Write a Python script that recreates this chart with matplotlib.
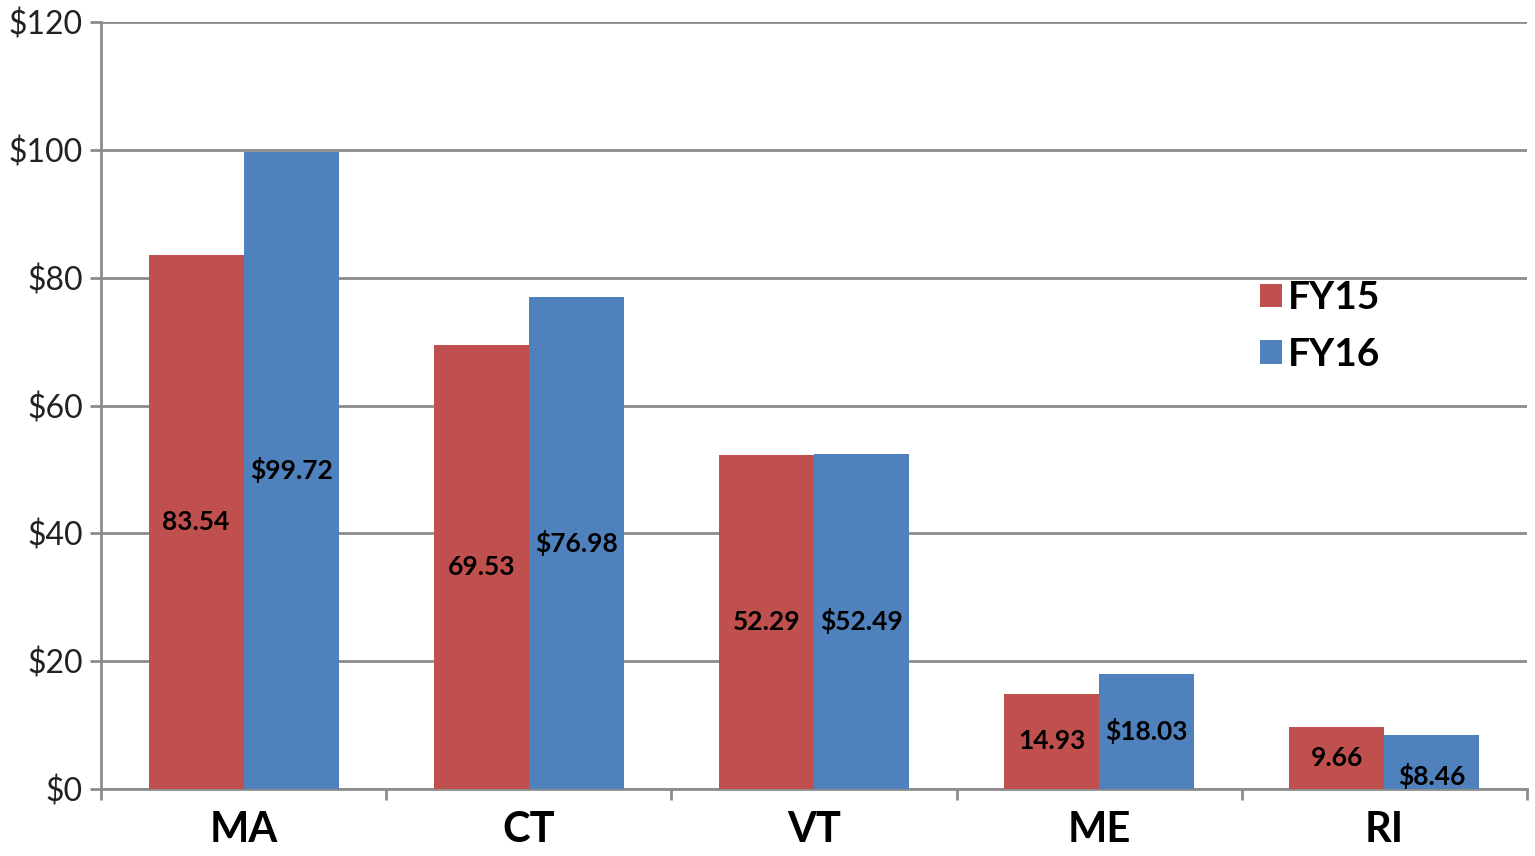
import numpy as np
from matplotlib import pyplot as plt

states = ["MA", "CT", "VT", "ME", "RI"]
fy15 = [83.54, 69.53, 52.29, 14.93, 9.66]
fy16 = [99.72, 76.98, 52.49, 18.03, 8.46]
fy15_labels = ["83.54", "69.53", "52.29", "14.93", "9.66"]
fy16_labels = ["$99.72", "$76.98", "$52.49", "$18.03", "$8.46"]
y_ticks = [0, 20, 40, 60, 80, 100, 120]

red = "#C0504D"
blue = "#4F81BD"
grid_color = "#8c8c8c"

plt.rcParams["font.family"] = ["Lato", "DejaVu Sans"]

fig = plt.figure(figsize=(15.35, 8.56), dpi=100)
ax = fig.add_axes([101 / 1535, 1 - 789 / 856, (1527 - 101) / 1535, (789 - 22) / 856])

x = np.arange(len(states))
w = 1 / 3
bars15 = ax.bar(x - w / 2, fy15, w, color=red, label="FY15", zorder=3)
bars16 = ax.bar(x + w / 2, fy16, w, color=blue, label="FY16", zorder=3)

for b, lab in zip(bars15, fy15_labels):
    ax.text(b.get_x() + b.get_width() / 2, b.get_height() / 2, lab,
            ha="center", va="center", fontsize=19, fontweight="bold", zorder=4)
for b, lab in zip(bars16, fy16_labels):
    # the small RI label sits lower in the original
    yy = b.get_height() / 2 if b.get_height() > 10 else 2.0
    ax.text(b.get_x() + b.get_width() / 2, yy, lab,
            ha="center", va="center", fontsize=19, fontweight="bold", zorder=4)

ax.set_xlim(-0.5, len(states) - 0.5)
ax.set_ylim(0, 120)
ax.set_yticks(y_ticks)
ax.set_yticklabels([f"${v}" for v in y_ticks], fontsize=23, color="#222222")
ax.yaxis.grid(True, color=grid_color, linewidth=2, zorder=0)

ax.set_xticks(x)
ax.set_xticklabels(states, fontsize=30, fontweight="bold")
ax.set_xticks(np.arange(len(states) + 1) - 0.5, minor=True)
ax.tick_params(axis="x", which="major", length=0, pad=16)
ax.tick_params(axis="x", which="minor", length=8, width=2, color=grid_color, direction="out")
ax.tick_params(axis="y", length=8, width=2, color=grid_color, pad=5)

for side in ["top", "right"]:
    ax.spines[side].set_visible(False)
for side in ["left", "bottom"]:
    ax.spines[side].set_color(grid_color)
    ax.spines[side].set_linewidth(2)

ax.legend(loc="upper left", bbox_to_anchor=(1233 / 1535, 1 - 253 / 856),
          bbox_transform=fig.transFigure, frameon=False,
          prop={"weight": "bold", "size": 28}, handlelength=0.55, handleheight=0.55,
          handletextpad=0.15, labelspacing=0.55, borderpad=0.2)

fig.savefig("out.png", dpi=100)
